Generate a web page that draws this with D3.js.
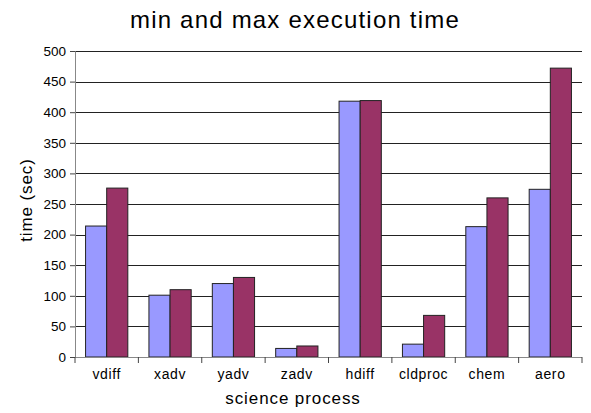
<!DOCTYPE html>
<html><head><meta charset="utf-8">
<script src="https://cdn.jsdelivr.net/npm/d3@7"></script>
<style>body{margin:0;background:#fff;}svg{display:block;font-family:"Liberation Sans",Arial,sans-serif;}</style>
</head><body>
<svg id="c" width="591" height="413"></svg>
<script>
const categories = ["vdiff","xadv","yadv","zadv","hdiff","cldproc","chem","aero"];
const minValues = [214,101,120,14,418,21,213,274];
const maxValues = [276,110,130,18,419,68,260,472];
const yTicks = [0,50,100,150,200,250,300,350,400,450,500];
const seriesNames = ["min","max"];
const colors = ["#9999FF","#993366"];

const svg = d3.select("#c");
const m = {left:75, right:9, top:51, bottom:56};
const W = 591, H = 413;
const x = d3.scaleBand().domain(categories).range([m.left, W-m.right]).paddingInner(1/3).paddingOuter(1/6);
const x0 = d3.scaleBand().domain(categories).range([m.left, W-m.right]);
const xs = d3.scaleBand().domain(seriesNames).range([0, x.bandwidth()]);
const y = d3.scaleLinear().domain([0,500]).range([H-m.bottom, m.top]);

// gridlines
svg.append("g").selectAll("line").data(yTicks.filter(d=>d>0)).join("line")
  .attr("x1", m.left).attr("x2", W-m.right)
  .attr("y1", d=>Math.round(y(d))+0.5).attr("y2", d=>Math.round(y(d))+0.5)
  .attr("stroke","#222").attr("stroke-width",1);

// bars
const data = categories.map((c,i)=>({c, vals:[minValues[i], maxValues[i]]}));
const g = svg.append("g").selectAll("g").data(data).join("g")
  .attr("transform", d=>`translate(${x(d.c)},0)`);
g.selectAll("rect").data(d=>d.vals.map((v,j)=>({v, s:seriesNames[j], j}))).join("rect")
  .attr("x", d=>xs(d.s)).attr("width", xs.bandwidth())
  .attr("y", d=>y(d.v)).attr("height", d=>y(0)-y(d.v))
  .attr("fill", d=>colors[d.j]).attr("stroke","#222").attr("stroke-width",1);

// y axis
const ya = svg.append("g").attr("transform",`translate(${m.left},0)`)
  .call(d3.axisLeft(y).tickValues(yTicks).tickSize(5).tickPadding(4));
ya.select(".domain").attr("stroke","#888");
ya.selectAll(".tick line").attr("stroke","#444");
ya.selectAll("text").attr("font-size",13.5).attr("fill","#000").attr("font-family","Liberation Sans, Arial, sans-serif");

// x axis
const xa = svg.append("g").attr("transform",`translate(0,${y(0)})`);
xa.append("line").attr("x1",m.left).attr("x2",W-m.right).attr("y1",0.5).attr("y2",0.5).attr("stroke","#888");
xa.selectAll("line.tk").data(categories.concat(["_end"])).join("line").attr("class","tk")
  .attr("x1",(d,i)=>m.left + i*x0.step()).attr("x2",(d,i)=>m.left + i*x0.step())
  .attr("y1",0).attr("y2",6).attr("stroke","#444");
xa.selectAll("text").data(categories).join("text")
  .attr("x", d=>x0(d)+x0.bandwidth()/2).attr("y",22)
  .attr("text-anchor","middle").attr("font-size",14).attr("letter-spacing",0.6).text(d=>d);

// titles
svg.append("text").attr("x",295).attr("y",28).attr("text-anchor","middle")
  .attr("font-size",24).attr("letter-spacing",1.2).text("min and max execution time");
svg.append("text").attr("x",293).attr("y",404).attr("text-anchor","middle")
  .attr("font-size",17).attr("letter-spacing",0.9).text("science process");
svg.append("text").attr("transform","translate(32,200) rotate(-90)").attr("text-anchor","middle")
  .attr("font-size",17).attr("letter-spacing",0.9).text("time (sec)");
</script>
</body></html>
